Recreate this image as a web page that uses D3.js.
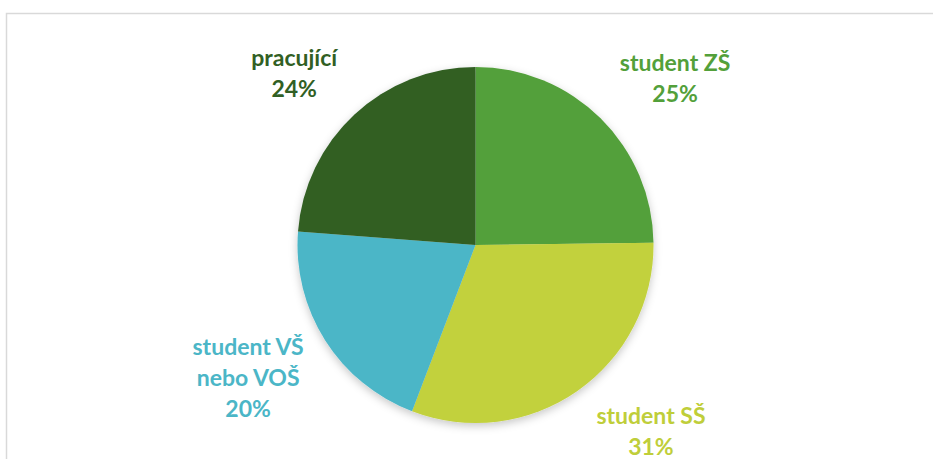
<!DOCTYPE html>
<meta charset="utf-8">
<script src="https://d3js.org/d3.v7.min.js"></script>
<style>
    body { margin: 0; background: #fff; }
    .label { font-family: Lato, "Open Sans", sans-serif; font-weight: 700; font-size: 23px; }
</style>
<body>
<svg id="pie" width="933" height="459"></svg>
<script>
// data
var categories = ["student ZŠ", "student SŠ", "student VŠ nebo VOŠ", "pracující"];
var values = [24.8, 31.0, 20.4, 23.8];
var percentLabels = ["25%", "31%", "20%", "24%"];
var colors = ["#53A03A", "#C2D13C", "#4BB6C7", "#315F24"];

var svg = d3.select("#pie"),
  width = +svg.attr("width"),
  height = +svg.attr("height");

// chart frame (runs off the right and bottom edge)
svg.append("rect")
  .attr("x", 6.5).attr("y", 13.5)
  .attr("width", 1000).attr("height", 600)
  .attr("fill", "none")
  .attr("stroke", "#d9d9d9")
  .attr("stroke-width", 1.5);

var defs = svg.append("defs");
var f = defs.append("filter").attr("id", "shadow")
  .attr("x", "-20%").attr("y", "-20%").attr("width", "140%").attr("height", "140%");
f.append("feDropShadow")
  .attr("dx", 0).attr("dy", 3)
  .attr("stdDeviation", 4)
  .attr("flood-color", "#000")
  .attr("flood-opacity", 0.22);

var cx = 475.5, cy = 245, radius = 178;

var pie = d3.pie().sort(null).value(function(d) { return d.value; });
var arc = d3.arc().innerRadius(0).outerRadius(radius);

var data = categories.map(function(c, i) {
  return { name: c, value: values[i], pct: percentLabels[i], color: colors[i] };
});
var arcs = pie(data);

var g = svg.append("g").attr("transform", "translate(" + cx + "," + cy + ")");

g.append("g").attr("filter", "url(#shadow)")
  .selectAll("path")
  .data(arcs)
  .enter()
  .append("path")
    .attr("d", arc)
    .attr("fill", function(d) { return d.data.color; });

// labels: placed outside the slices, Excel "best fit" style
var labelArc = d3.arc().innerRadius(radius * 1.3).outerRadius(radius * 1.3);
// nudges so the labels sit where the original puts them
var nudge = {
  "student ZŠ": [37, -2],
  "student SŠ": [43, -3],
  "student VŠ nebo VOŠ": [-32, 9],
  "pracující": [-24, -2]
};

var labels = g.selectAll("text.label")
  .data(arcs)
  .enter()
  .append("text")
    .attr("class", "label")
    .attr("text-anchor", "middle")
    .attr("fill", function(d) { return d.data.color === "#C2D13C" ? "#BFCE3A" : d.data.color; })
    .attr("transform", function(d) {
      var c = labelArc.centroid(d), n = nudge[d.data.name];
      return "translate(" + (c[0] + n[0]) + "," + (c[1] + n[1]) + ")";
    });

labels.each(function(d) {
  var lines = d.data.name === "student VŠ nebo VOŠ" ? ["student VŠ", "nebo VOŠ"] : [d.data.name];
  lines.push(d.data.pct);
  var t = d3.select(this);
  var start = -(lines.length - 1) * 31 / 2 + 8;
  lines.forEach(function(l, i) {
    t.append("tspan").attr("x", 0).attr("y", start + i * 31).text(l);
  });
});
</script>
</body>
</html>
